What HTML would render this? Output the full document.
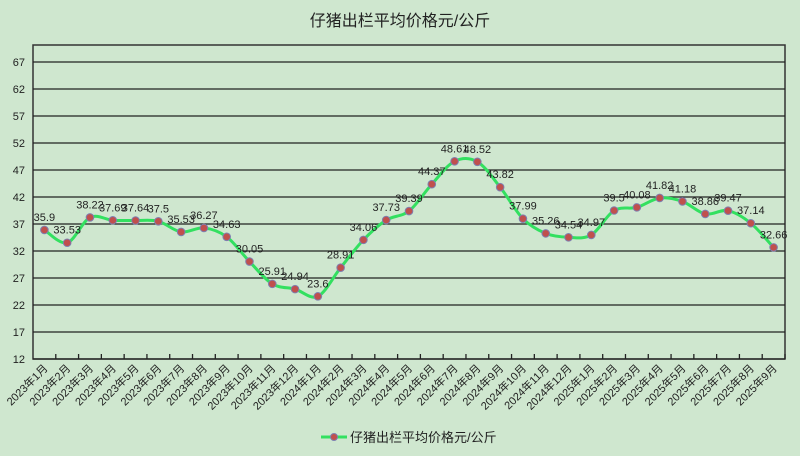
<!DOCTYPE html>
<html><head><meta charset="utf-8"><style>
html,body{margin:0;padding:0;background:#cfe7cf;}
svg{display:block;font-family:"Liberation Sans","Noto Sans CJK SC",sans-serif;}
</style></head><body>
<svg id="c" width="800" height="456">
<rect width="800" height="456" fill="#cfe7cf"/>
<text x="400" y="26" text-anchor="middle" font-size="16" fill="#222">仔猪出栏平均价格元/公斤</text>
<g id="grid"></g><g id="series"></g><g id="labels"></g>
<g>
<line x1="321" y1="437" x2="347" y2="437" stroke="#33e060" stroke-width="3"/>
<circle cx="334" cy="437" r="3.5" fill="#c0504d" stroke="#7f7fb0" stroke-width="1"/>
<text x="350" y="442" font-size="13" fill="#222">仔猪出栏平均价格元/公斤</text>
</g>
</svg>
<script>
const categories=["2023年1月","2023年2月","2023年3月","2023年4月","2023年5月","2023年6月","2023年7月","2023年8月","2023年9月","2023年10月","2023年11月","2023年12月","2024年1月","2024年2月","2024年3月","2024年4月","2024年5月","2024年6月","2024年7月","2024年8月","2024年9月","2024年10月","2024年11月","2024年12月","2025年1月","2025年2月","2025年3月","2025年4月","2025年5月","2025年6月","2025年7月","2025年8月","2025年9月"];
const values=[35.9,33.53,38.22,37.69,37.64,37.5,35.53,36.27,34.63,30.05,25.91,24.94,23.6,28.91,34.06,37.73,39.39,44.37,48.61,48.52,43.82,37.99,35.26,34.54,34.97,39.5,40.08,41.82,41.18,38.86,39.47,37.14,32.66];
const yTicks=[12,17,22,27,32,37,42,47,52,57,62,67];
const NS="http://www.w3.org/2000/svg";
const L=33,R=785,T=45,B=359,yMin=12,yMax=12+(B-T)/5.4;
const cw=(R-L)/categories.length;
function x(i){return L+cw*(i+0.5);}
function y(v){return B-(v-yMin)/(yMax-yMin)*(B-T);}
function mk(tag,a,p){const e=document.createElementNS(NS,tag);for(const k in a)e.setAttribute(k,a[k]);p.appendChild(e);return e;}
const g=document.getElementById('grid'),s=document.getElementById('series'),lb=document.getElementById('labels');
let r=mk('rect',{x:L,y:T,width:R-L,height:B-T,fill:'none',stroke:'#333','stroke-width':1.5},g);


yTicks.forEach(v=>{
 const l=mk('line',{x1:L,x2:R,y1:y(v),y2:y(v),stroke:'#222','stroke-width':1.3},g);
 
 
 const t=mk('text',{x:L-8,y:y(v)+4,'text-anchor':'end','font-size':11,fill:'#222'},g);
 t.textContent=v;
 
 
});
categories.forEach((c,i)=>{
 const bx=L+cw*(i+1);
 const tk=mk('line',{x1:bx,x2:bx,y1:B,y2:B-5,stroke:'#222','stroke-width':1.3},g);
 
 
 const t=mk('text',{x:x(i)+4,y:B+10,'text-anchor':'end','font-size':11,fill:'#222',transform:`rotate(-45 ${x(i)+4} ${B+10})`},g);
 t.textContent=c;
 
 
});
const P=values.map((v,i)=>[x(i),y(v)]);
let d=`M${P[0][0]},${P[0][1]}`;
for(let i=0;i<P.length-1;i++){
 const p0=P[i-1]||P[i],p1=P[i],p2=P[i+1],p3=P[i+2]||P[i+1],k=6;
 d+=` C${p1[0]+(p2[0]-p0[0])/k},${p1[1]+(p2[1]-p0[1])/k} ${p2[0]-(p3[0]-p1[0])/k},${p2[1]-(p3[1]-p1[1])/k} ${p2[0]},${p2[1]}`;
}
const path=mk('path',{d:d,fill:'none',stroke:'#33e060','stroke-width':3},s);


values.forEach((v,i)=>{
 const c=mk('circle',{cx:x(i),cy:y(v),r:3.8,fill:'#c0504d',stroke:'#7f7fb0','stroke-width':1},s);
 
 
 const t=mk('text',{x:x(i),y:y(v)-9,'text-anchor':'middle','font-size':11,fill:'#222'},lb);
 t.textContent=v;
 
 
});
</script>
</body></html>
